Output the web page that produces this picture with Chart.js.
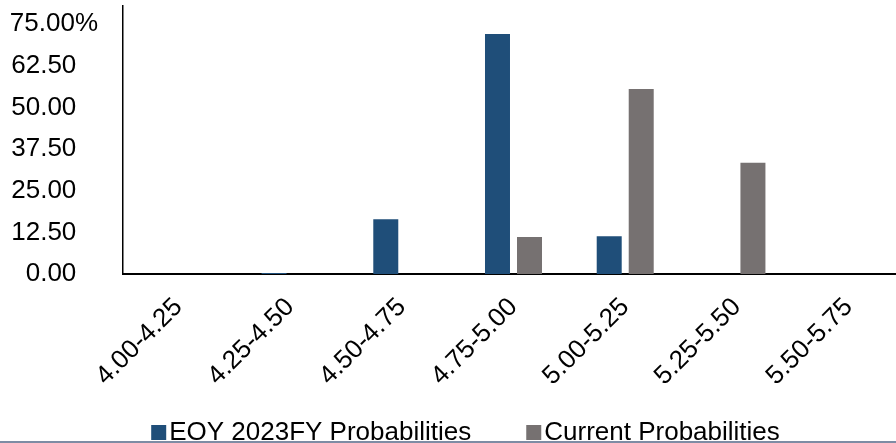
<!DOCTYPE html>
<html>
<head>
<meta charset="utf-8">
<script src="https://cdn.jsdelivr.net/npm/chart.js@4.4.0/dist/chart.umd.min.js"></script>
<style>
  html, body { margin: 0; padding: 0; background: #fff; overflow: hidden; width: 896px; height: 443px; }
  #wrap { position: relative; width: 935px; height: 443px; }
  canvas { display: block; }
</style>
</head>
<body>
<div id="wrap"><canvas id="chart" width="935" height="443"></canvas></div>
<script>
// Fed funds target-rate buckets (%)
const rateBuckets = ['4.00-4.25', '4.25-4.50', '4.50-4.75', '4.75-5.00', '5.00-5.25', '5.25-5.50', '5.50-5.75'];
// Probability of each bucket (%)
const eoyProbabilities = [0, 0.3, 16.4, 72.0, 11.3, 0, 0];
const currentProbabilities = [0, 0, 0, 11.1, 55.5, 33.4, 0];
// Value axis ticks
const yTickValues = [0, 12.5, 25, 37.5, 50, 62.5, 75];
const seriesNames = ['EOY 2023FY Probabilities', 'Current Probabilities'];
const seriesColors = ['#1f4e79', '#767171'];

const FONT_FAMILY = '"Liberation Sans", Arial, Helvetica, sans-serif';
const FONT_SIZE = 26;

// Legend row and bottom rule drawn straight onto the canvas
const legendAndRule = {
  id: 'legendAndRule',
  afterDraw(chart) {
    const ctx = chart.ctx;
    const W = chart.width;
    ctx.save();
    ctx.font = FONT_SIZE + 'px ' + FONT_FAMILY;
    ctx.textBaseline = 'alphabetic';
    const box = 15, gapBox = 3, gapItem = 55;
    const widths = chart.data.datasets.map(d => ctx.measureText(d.label).width);
    let total = 0;
    widths.forEach((w, i) => { total += box + gapBox + w + (i < widths.length - 1 ? gapItem : 0); });
    let x = W / 2 - total / 2 - 2;
    const boxTop = 425, baseline = 440;
    chart.data.datasets.forEach((d, i) => {
      ctx.fillStyle = d.backgroundColor;
      ctx.fillRect(x, boxTop, box, box);
      x += box + gapBox;
      ctx.fillStyle = '#000';
      ctx.fillText(d.label, x, baseline);
      x += widths[i] + gapItem;
    });
    ctx.fillStyle = '#7e8ca4';
    ctx.fillRect(0, 441, W, 2);
    ctx.restore();
  }
};

new Chart(document.getElementById('chart'), {
  type: 'bar',
  data: {
    labels: rateBuckets,
    datasets: [
      { label: seriesNames[0], data: eoyProbabilities, backgroundColor: seriesColors[0] },
      { label: seriesNames[1], data: currentProbabilities, backgroundColor: seriesColors[1] }
    ]
  },
  options: {
    responsive: false,
    animation: false,
    devicePixelRatio: 1,
    layout: { padding: { top: 6, right: 30.5, left: 0, bottom: 0 } },
    datasets: { bar: { barPercentage: 0.781, categoryPercentage: 0.573, borderWidth: 0 } },
    plugins: { legend: { display: false }, tooltip: { enabled: false } },
    scales: {
      x: {
        offset: true,
        grid: { display: false, drawTicks: false },
        border: { display: true, color: '#000', width: 2 },
        ticks: {
          autoSkip: false, minRotation: 45, maxRotation: 45, padding: 18,
          color: '#000', font: { family: FONT_FAMILY, size: FONT_SIZE }
        },
        afterFit(scale) { scale.height = 169; scale.paddingLeft = 0; scale.paddingRight = 0; }
      },
      y: {
        min: 0, max: 80.4,
        grid: { display: false, drawTicks: false },
        border: { display: true, color: '#000', width: 1.5 },
        afterBuildTicks(scale) { scale.ticks = yTickValues.map(v => ({ value: v })); },
        ticks: {
          padding: 24.5, color: '#000', font: { family: FONT_FAMILY, size: FONT_SIZE },
          callback: v => v.toFixed(2) + (v === 75 ? '%' : '   ')
        },
        afterFit(scale) { scale.width = 122.5; scale.paddingTop = 0; scale.paddingBottom = 0; }
      }
    }
  },
  plugins: [legendAndRule]
});
</script>
</body>
</html>
